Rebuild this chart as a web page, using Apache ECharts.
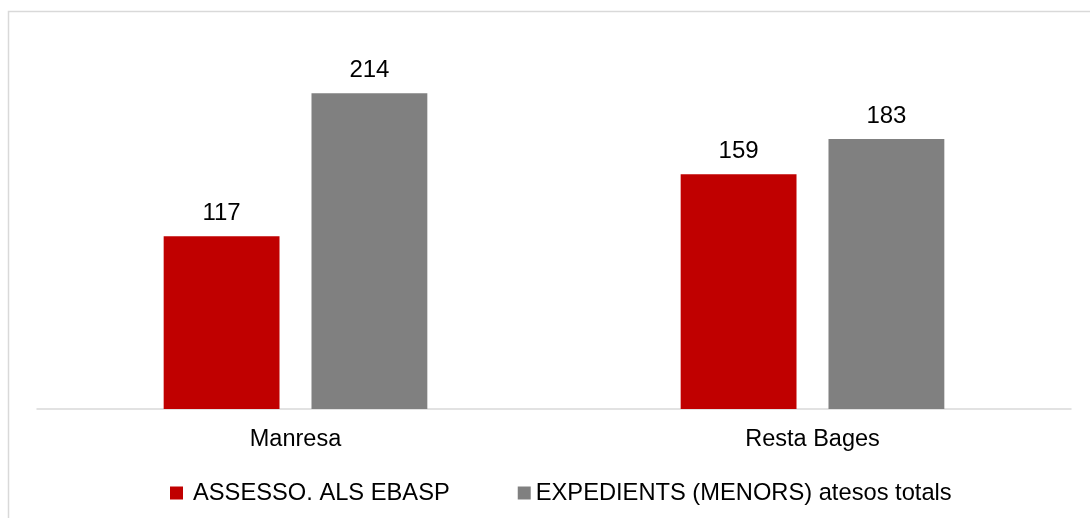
<!DOCTYPE html>
<html>
<head>
<meta charset="utf-8">
<script src="https://cdn.jsdelivr.net/npm/echarts@6/dist/echarts.min.js"></script>
<style>html,body{margin:0;padding:0;background:#fff;}#c{width:1090px;height:518px;}</style>
</head>
<body>
<div id="c"></div>
<script>
var categories = ['Manresa', 'Resta Bages'];
var seriesNames = ['ASSESSO. ALS EBASP', 'EXPEDIENTS (MENORS) atesos totals'];
var assessoValues = [117, 159];
var expedientsValues = [214, 183];

var chart = echarts.init(document.getElementById('c'));
var font = '"Liberation Sans", Arial, sans-serif';
chart.setOption({
  animation: false,
  backgroundColor: '#fff',
  graphic: [{
    type: 'rect', silent: true, z: -1,
    shape: {x: 8.5, y: 11.5, width: 1200, height: 600},
    style: {fill: 'none', stroke: '#d9d9d9', lineWidth: 1.5}
  }],
  grid: {left: 37, right: 19, top: 40, bottom: 109},
  legend: {
    left: 165, top: 476,
    itemWidth: 13, itemHeight: 13, itemGap: 68,
    icon: 'rect',
    textStyle: {fontFamily: font, fontSize: 23.7, color: '#000'},
    data: [
      {name: seriesNames[0], textStyle: {padding: [0, 0, 0, 5]}},
      {name: seriesNames[1]}
    ]
  },
  xAxis: {
    type: 'category', data: categories,
    axisLine: {lineStyle: {color: '#d9d9d9', width: 1.5}},
    axisTick: {show: false},
    axisLabel: {fontFamily: font, fontSize: 23.5, color: '#000', margin: 19}
  },
  yAxis: {
    type: 'value', min: 0, max: 250, show: false,
    splitLine: {show: false}
  },
  series: [
    {
      name: seriesNames[0], type: 'bar', data: assessoValues,
      itemStyle: {color: '#c00000'},
      barGap: '27.6%', barCategoryGap: '49%',
      label: {show: true, position: 'top', distance: 11, fontFamily: font, fontSize: 24, color: '#000'}
    },
    {
      name: seriesNames[1], type: 'bar', data: expedientsValues,
      itemStyle: {color: '#808080'},
      barGap: '27.6%', barCategoryGap: '49%',
      label: {show: true, position: 'top', distance: 11, fontFamily: font, fontSize: 24, color: '#000'}
    }
  ]
});
</script>
</body>
</html>
